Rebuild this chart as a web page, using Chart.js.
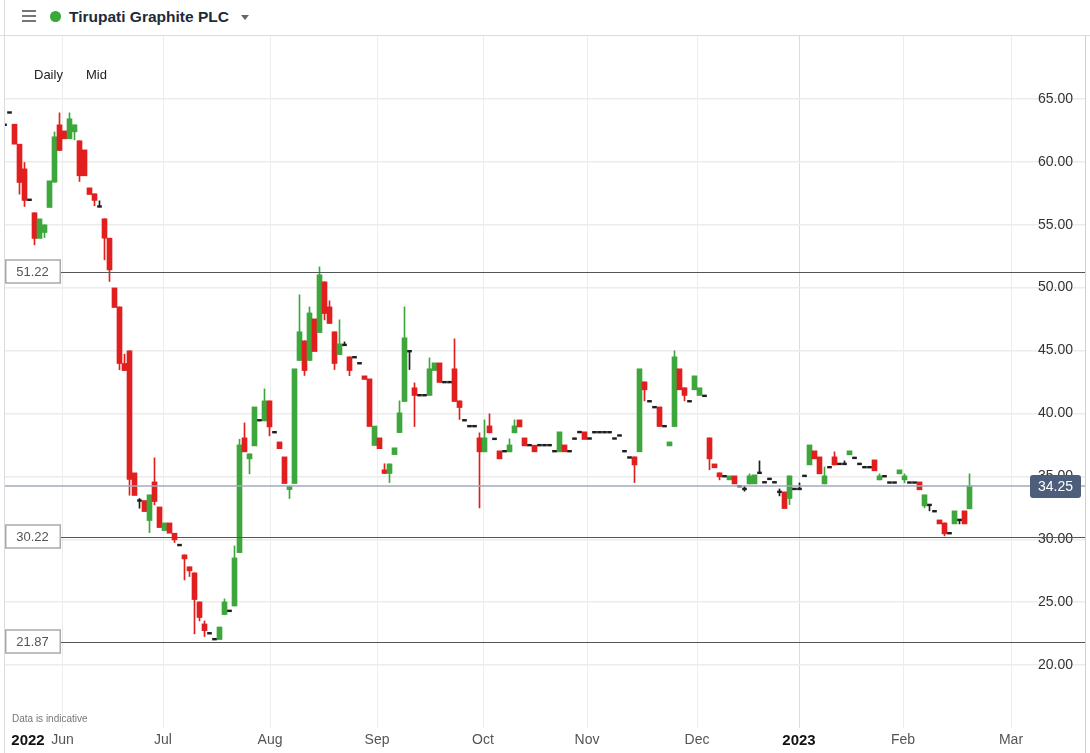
<!DOCTYPE html>
<html>
<head>
<meta charset="utf-8">
<script src="https://cdn.jsdelivr.net/npm/chart.js@4.4.0/dist/chart.umd.min.js"></script>
<style>
html,body{margin:0;padding:0;background:#fff;overflow:hidden;}
body{width:1090px;height:753px;position:relative;font-family:"Liberation Sans",Arial,sans-serif;}
#header{position:absolute;left:0;top:0;width:1090px;height:35px;border-bottom:1px solid #dcdcdc;}
.bar{position:absolute;left:22px;width:14px;height:1.6px;background:#777;}
#dot{position:absolute;left:50px;top:11px;width:10.5px;height:10.5px;border-radius:50%;background:#3ba83b;}
#title{position:absolute;left:69px;top:7px;font-weight:bold;font-size:15.5px;color:#1c2a3a;line-height:20px;}
#caret{position:absolute;left:241px;top:15px;width:0;height:0;border-left:4.5px solid transparent;border-right:4.5px solid transparent;border-top:5px solid #666;}
#leftline{position:absolute;left:4px;top:0;width:1px;height:753px;background:#dcdcdc;}
#rightstrip{position:absolute;left:1085px;top:36px;width:5px;height:717px;background:#fff;border-left:1px solid #d0d0d0;}
#wrap{position:absolute;left:0;top:36px;width:1090px;height:717px;}
.lbl{position:absolute;font-size:13px;color:#222;}
#note{position:absolute;left:12px;top:713px;font-size:10px;color:#777;}
</style>
</head>
<body>
<div id="wrap"><canvas id="chart"></canvas></div>
<div id="header">
  <div class="bar" style="top:10px"></div>
  <div class="bar" style="top:15px"></div>
  <div class="bar" style="top:20px"></div>
  <div id="dot"></div>
  <div id="title">Tirupati Graphite PLC</div>
  <div id="caret"></div>
</div>
<div id="leftline"></div>
<div id="rightstrip"></div>
<div class="lbl" style="left:34px;top:67px">Daily</div>
<div class="lbl" style="left:86px;top:67px">Mid</div>
<div id="note">Data is indicative</div>
<script>
// daily candles, late May 2022 - 20 Feb 2023 (one entry per trading day)
const opens = [
  62.94, 63.92, 62.99, 61.40, 59.44, 56.98, 55.95, 53.91, 54.38, 56.37,
  58.38, 62.94, 62.46, 61.83, 62.38, 61.67, 60.95, 57.93, 57.46, 56.45,
  55.47, 53.93, 49.98, 48.47, 43.97, 44.98, 35.28, 33.08, 33.08, 31.49,
  34.56, 32.57, 30.69, 31.30, 30.48, 29.54, 28.76, 27.81, 27.33, 25.02,
  23.27, 22.53, 22.06, 22.03, 24.02, 24.31, 24.70, 28.94, 38.06, 36.39,
  37.42, 39.46, 39.41, 41.00, 38.51, 37.74, 36.55, 33.95, 34.43, 44.21,
  45.77, 44.21, 47.52, 46.43, 50.46, 48.47, 46.49, 44.68, 45.45, 44.50,
  44.47, 43.99, 42.99, 42.75, 37.45, 38.06, 35.52, 35.23, 36.73, 38.48,
  40.95, 44.95, 42.04, 41.45, 41.45, 41.43, 43.41, 44.02, 42.49, 42.49,
  43.55, 41.00, 39.46, 38.99, 38.99, 38.06, 36.95, 39.01, 37.98, 37.03,
  37.00, 36.95, 38.46, 39.49, 38.06, 37.48, 37.48, 37.48, 37.48, 37.48,
  37.00, 36.95, 37.50, 37.00, 38.00, 38.52, 38.54, 38.01, 38.51, 38.51,
  38.51, 38.51, 38.01, 38.25, 37.00, 36.50, 36.55, 36.95, 42.51, 40.97,
  40.50, 40.52, 38.99, 37.42, 38.96, 43.55, 42.04, 40.97, 41.88, 41.43,
  41.40, 38.06, 35.99, 35.28, 35.01, 34.72, 35.04, 34.22, 34.00, 34.40,
  34.40, 35.28, 34.53, 34.80, 34.53, 33.77, 33.77, 33.24, 34.00, 34.00,
  35.04, 35.91, 37.03, 36.55, 34.40, 35.73, 36.55, 35.99, 35.99, 36.71,
  36.47, 35.99, 35.73, 35.73, 36.31, 34.72, 35.01, 34.51, 34.51, 35.20,
  34.72, 34.51, 34.51, 34.56, 32.65, 32.73, 32.23, 31.54, 31.30, 30.48,
  31.22, 31.54, 32.26, 32.42
];
const closes = [
  62.94, 63.92, 61.40, 58.36, 56.93, 56.98, 53.91, 55.47, 54.99, 58.49,
  61.99, 60.90, 61.83, 63.42, 62.94, 58.89, 58.89, 57.40, 56.93, 56.45,
  53.93, 51.41, 48.42, 43.97, 43.41, 34.75, 33.48, 33.08, 32.20, 33.53,
  33.00, 30.93, 31.30, 30.48, 29.95, 29.54, 28.44, 27.49, 25.21, 23.78,
  22.74, 22.53, 22.06, 23.03, 25.02, 24.31, 28.52, 37.50, 36.95, 36.79,
  40.52, 39.46, 41.00, 38.93, 38.51, 37.20, 34.43, 34.22, 43.55, 46.49,
  43.41, 47.99, 44.92, 51.02, 47.94, 47.15, 43.97, 45.53, 45.45, 43.41,
  44.47, 43.99, 42.70, 38.96, 39.00, 37.20, 35.23, 35.99, 37.27, 40.05,
  46.01, 44.95, 41.43, 41.45, 41.45, 43.55, 44.02, 42.46, 42.49, 42.49,
  40.95, 40.47, 39.46, 38.99, 38.99, 36.95, 38.06, 38.46, 37.98, 36.39,
  37.00, 37.50, 39.01, 38.93, 37.42, 37.48, 36.95, 37.48, 37.48, 37.48,
  37.00, 38.54, 36.95, 37.00, 38.00, 38.52, 37.93, 38.01, 38.51, 38.51,
  38.51, 38.51, 38.01, 38.25, 37.00, 36.50, 35.91, 43.55, 41.88, 40.97,
  40.50, 38.96, 38.99, 37.74, 44.50, 41.88, 41.43, 40.97, 42.99, 42.04,
  41.40, 36.39, 35.68, 34.96, 35.01, 35.04, 34.40, 34.22, 34.00, 35.04,
  35.12, 35.28, 34.53, 34.80, 34.53, 33.77, 32.44, 35.04, 34.00, 34.00,
  35.04, 37.50, 36.39, 35.20, 35.04, 35.73, 35.91, 35.99, 35.99, 37.03,
  36.47, 35.99, 35.73, 35.73, 35.44, 35.04, 35.01, 34.51, 34.51, 35.52,
  35.04, 34.51, 34.51, 33.93, 33.53, 32.73, 32.23, 31.22, 30.43, 30.48,
  32.26, 31.54, 31.22, 34.25
];
const highs = [
  62.94, 63.92, 62.99, 61.40, 59.95, 56.98, 55.95, 55.47, 54.99, 58.49,
  62.38, 63.89, 62.46, 63.89, 62.94, 61.67, 60.95, 57.93, 57.46, 56.90,
  55.47, 53.93, 49.98, 48.47, 44.71, 44.98, 35.28, 33.24, 33.08, 33.53,
  36.47, 32.57, 31.30, 31.30, 30.48, 29.54, 28.76, 27.81, 27.33, 25.02,
  23.51, 22.53, 22.06, 23.03, 25.26, 24.31, 29.47, 37.95, 39.25, 36.79,
  40.52, 39.46, 41.95, 41.00, 38.51, 37.74, 36.55, 34.22, 43.55, 49.43,
  45.77, 48.47, 47.52, 51.65, 50.46, 48.95, 46.49, 47.44, 45.69, 44.50,
  44.47, 43.99, 42.99, 42.75, 39.00, 38.06, 36.00, 35.99, 37.27, 41.00,
  48.47, 44.95, 42.43, 41.45, 41.45, 44.42, 44.02, 44.02, 42.49, 42.49,
  45.93, 41.00, 39.46, 38.99, 38.99, 38.46, 39.49, 39.97, 37.98, 37.03,
  37.00, 37.98, 39.49, 39.49, 38.06, 37.48, 37.48, 37.48, 37.48, 37.48,
  37.00, 38.54, 37.50, 37.00, 38.00, 38.52, 38.54, 38.01, 38.51, 38.51,
  38.51, 38.51, 38.01, 38.25, 37.00, 36.50, 36.55, 43.55, 42.51, 40.97,
  40.50, 40.52, 38.99, 37.74, 44.98, 43.55, 42.04, 40.97, 42.99, 42.04,
  41.40, 38.06, 35.99, 35.28, 35.01, 35.04, 35.04, 34.22, 34.24, 35.20,
  35.12, 36.23, 34.53, 34.80, 34.53, 34.00, 33.77, 35.04, 34.00, 34.48,
  35.04, 37.50, 37.03, 36.55, 35.75, 35.73, 36.95, 35.99, 36.23, 37.03,
  36.47, 35.99, 35.73, 35.73, 36.31, 35.20, 35.01, 34.51, 34.51, 35.52,
  35.20, 34.51, 34.51, 34.56, 33.53, 32.73, 32.23, 31.54, 31.30, 30.48,
  32.26, 31.54, 32.26, 35.20
];
const lows = [
  62.94, 63.92, 61.40, 57.43, 56.45, 56.98, 53.40, 53.91, 53.98, 56.37,
  58.38, 60.90, 61.83, 61.83, 61.75, 58.44, 58.89, 57.40, 56.50, 56.45,
  52.21, 50.49, 48.42, 43.47, 43.41, 33.50, 33.48, 32.47, 32.20, 30.53,
  32.73, 30.93, 30.69, 30.48, 29.74, 29.54, 26.77, 27.04, 22.48, 23.51,
  22.27, 22.53, 22.06, 22.03, 24.02, 24.31, 24.70, 28.94, 36.95, 35.20,
  37.42, 39.46, 39.41, 38.22, 38.51, 37.20, 34.43, 33.24, 34.43, 44.21,
  43.02, 44.21, 44.92, 46.43, 47.44, 47.15, 43.49, 44.68, 45.45, 43.00,
  44.47, 43.99, 42.70, 38.96, 37.45, 37.20, 35.23, 34.51, 36.73, 38.48,
  40.95, 43.49, 38.96, 41.45, 41.45, 41.43, 43.41, 42.46, 42.49, 42.49,
  40.95, 39.52, 39.46, 38.99, 38.99, 32.49, 36.95, 38.46, 37.98, 36.39,
  37.00, 36.95, 38.46, 38.93, 37.42, 37.48, 36.95, 37.48, 37.48, 37.48,
  37.00, 36.95, 36.95, 37.00, 38.00, 38.52, 37.93, 38.01, 38.51, 38.51,
  38.51, 38.51, 38.01, 38.25, 37.00, 36.50, 34.51, 36.95, 41.00, 40.97,
  40.50, 38.96, 38.99, 37.42, 38.96, 41.88, 41.00, 40.97, 41.88, 41.43,
  41.40, 35.52, 35.68, 34.72, 35.01, 34.72, 34.40, 34.22, 33.82, 34.40,
  34.40, 35.28, 34.53, 34.80, 34.53, 33.45, 32.44, 32.76, 34.00, 34.00,
  35.04, 35.91, 36.39, 35.20, 34.40, 35.73, 35.91, 35.99, 35.99, 36.71,
  36.47, 35.99, 35.73, 35.73, 35.44, 34.72, 35.01, 34.51, 34.51, 35.20,
  34.48, 34.51, 34.51, 33.93, 32.50, 32.26, 32.23, 31.22, 30.27, 30.48,
  31.22, 31.22, 31.22, 32.42
];

// x axis: candle index; month starts sit between candles
const tickPos = [4.7, 11.6, 31.7, 53.1, 74.5, 95.7, 116.5, 138.5, 158.9, 179.7, 201.3];
const tickLabels = ['2022', 'Jun', 'Jul', 'Aug', 'Sep', 'Oct', 'Nov', 'Dec', '2023', 'Feb', 'Mar'];
const yTicks = [20, 25, 30, 35, 40, 45, 50, 55, 60, 65];
const refLevels = [51.22, 30.22, 21.87];

const RED = '#e11f1f', GREEN = '#3da63d', DOJI = '#1e1e1e';
const idx = opens.map((_, i) => i);
const colorOf = i => closes[i] > opens[i] ? GREEN : (closes[i] < opens[i] ? RED : DOJI);

const bodyIdx = idx.filter(i => opens[i] !== closes[i]);
const dojiIdx = idx.filter(i => opens[i] === closes[i]);
const wickIdx = idx.filter(i => highs[i] > Math.max(opens[i], closes[i]) || lows[i] < Math.min(opens[i], closes[i]));

const levelsPlugin = {
  id: 'levels',
  afterDatasetsDraw(chart){
    const {ctx, chartArea: a, scales: {y}} = chart;
    ctx.save();
    // last price line
    const last = closes[closes.length - 1];
    const py = Math.round(y.getPixelForValue(last));
    ctx.strokeStyle = '#a2aaba';
    ctx.lineWidth = 1.5;
    ctx.beginPath(); ctx.moveTo(a.left, py); ctx.lineTo(a.right, py); ctx.stroke();

    ctx.font = '13px "Liberation Sans", Arial, sans-serif';
    ctx.textAlign = 'center';
    ctx.textBaseline = 'middle';
    refLevels.forEach(v => {
      const ly = Math.round(y.getPixelForValue(v)) + 0.5;
      ctx.strokeStyle = '#555';
      ctx.lineWidth = 1;
      ctx.beginPath(); ctx.moveTo(a.left, ly); ctx.lineTo(a.right, ly); ctx.stroke();
      ctx.fillStyle = '#fff';
      ctx.fillRect(a.left, ly - 12.5, 55, 23);
      ctx.strokeStyle = '#aaa';
      ctx.lineWidth = 1.5;
      ctx.strokeRect(a.left + 0.75, ly - 12.5, 54.5, 23);
      ctx.fillStyle = '#555';
      ctx.fillText(v.toFixed(2), a.left + 27.5, ly);
    });

    // price tag
    ctx.fillStyle = '#4d5d7c';
    ctx.beginPath();
    ctx.roundRect(1030, py - 11, 51, 23, 3);
    ctx.fill();
    ctx.fillStyle = '#fff';
    ctx.font = '14px "Liberation Sans", Arial, sans-serif';
    ctx.fillText(last.toFixed(2), 1055.5, py + 1);
    ctx.restore();
  }
};

new Chart(document.getElementById('chart'), {
  type: 'bar',
  data: {
    datasets: [
      {
        label: 'body',
        data: bodyIdx.map(i => ({x: i, y: [Math.min(opens[i], closes[i]), Math.max(opens[i], closes[i])]})),
        backgroundColor: bodyIdx.map(colorOf),
        barThickness: 5,
        borderWidth: 0,
        grouped: false,
        order: 1
      },
      {
        label: 'flat',
        data: dojiIdx.map(i => ({x: i, y: [closes[i] - 0.07, closes[i] + 0.07]})),
        backgroundColor: DOJI,
        barThickness: 4,
        borderWidth: 0,
        grouped: false,
        order: 0
      },
      {
        label: 'wick',
        data: wickIdx.map(i => ({x: i, y: [lows[i], highs[i]]})),
        backgroundColor: wickIdx.map(colorOf),
        barThickness: 1,
        borderWidth: 0,
        grouped: false,
        order: 2
      }
    ]
  },
  options: {
    responsive: true,
    maintainAspectRatio: false,
    animation: false,
    layout: { padding: { left: 5, right: 0, top: 0, bottom: 0 } },
    plugins: { legend: { display: false }, tooltip: { enabled: false } },
    scales: {
      x: {
        type: 'linear',
        min: 0.1,
        max: 216.1,
        offset: false,
        afterBuildTicks: s => { s.ticks = tickPos.map(v => ({value: v})); },
        afterFit: s => { s.height = 25; s.paddingLeft = 0; s.paddingRight = 0; },
        border: { display: false },
        grid: {
          offset: false,
          drawTicks: false,
          color: c => c.index === 0 ? 'rgba(0,0,0,0)' : (c.index === 8 ? '#dcdcdc' : '#ededed')
        },
        ticks: {
          autoSkip: false,
          maxRotation: 0,
          padding: 4,
          callback: (v, i) => tickLabels[i],
          color: c => (c.index === 0 || c.index === 8) ? '#111' : '#555',
          font: c => (c.index === 0 || c.index === 8)
            ? { family: '"Liberation Sans", Arial, sans-serif', size: 15, weight: 'bold' }
            : { family: '"Liberation Sans", Arial, sans-serif', size: 14 }
        }
      },
      y: {
        position: 'right',
        min: 15,
        max: 70,
        afterBuildTicks: s => { s.ticks = yTicks.map(v => ({value: v})); },
        afterFit: s => { s.width = 5; s.paddingTop = 0; s.paddingBottom = 0; },
        border: { display: false },
        grid: { drawTicks: false, color: '#ececec', lineWidth: 1.5 },
        ticks: {
          mirror: true,
          crossAlign: 'near',
          padding: -12,
          color: '#333',
          font: { family: '"Liberation Sans", Arial, sans-serif', size: 14 },
          callback: v => v.toFixed(2)
        }
      }
    }
  },
  plugins: [levelsPlugin]
});
</script>
</body>
</html>
